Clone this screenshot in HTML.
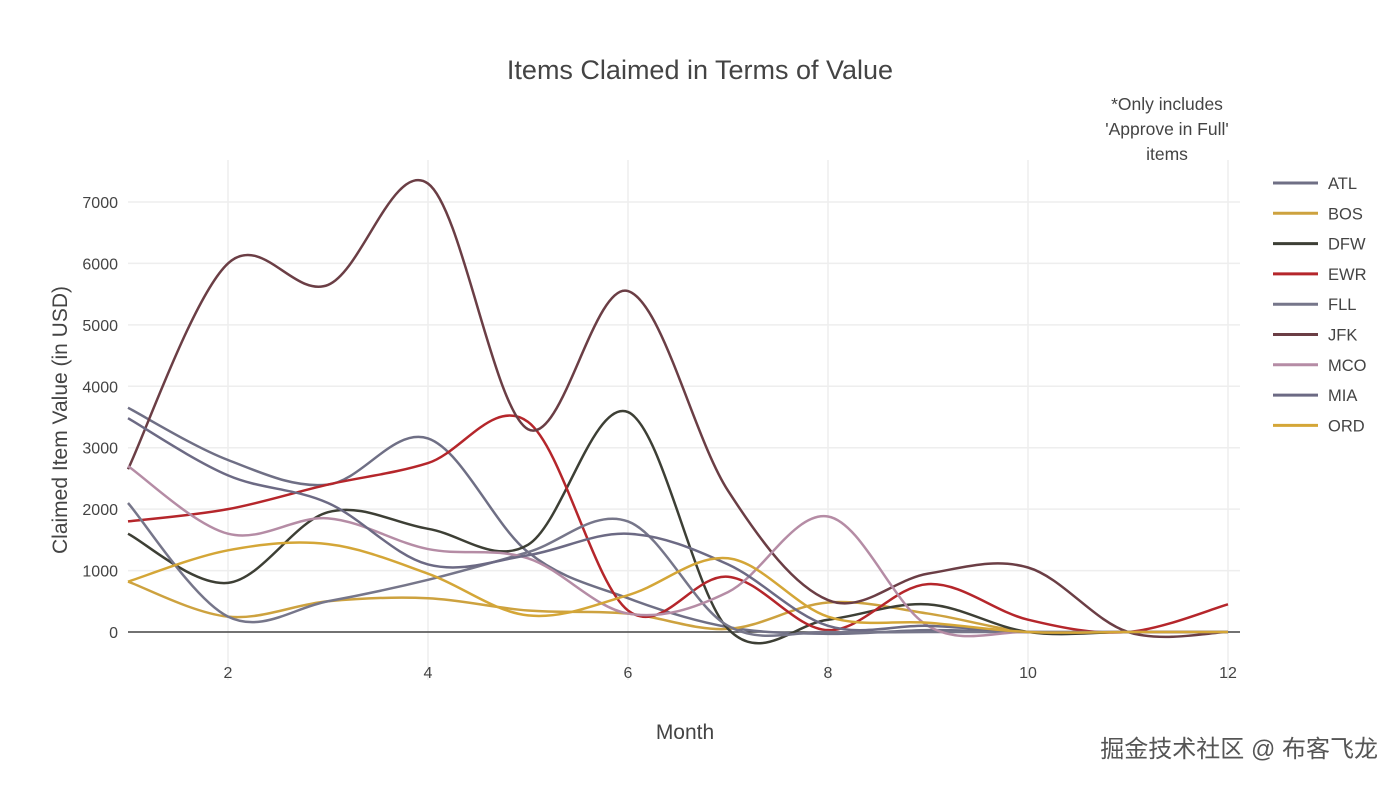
<!DOCTYPE html>
<html><head><meta charset="utf-8"><style>
body{margin:0;background:#fff;width:1400px;height:785px;overflow:hidden}
svg text{font-family:"Liberation Sans","Noto Sans CJK SC",sans-serif;fill:#444}
</style></head><body>
<svg id="s" width="1400" height="785" xmlns="http://www.w3.org/2000/svg">
<g id="grid" stroke="#eee" stroke-width="1.5"></g>
<line x1="128" y1="632" x2="1240" y2="632" stroke="#444" stroke-width="1.5"/>
<g id="lines" fill="none" stroke-width="2.5"></g>
<g id="ticks" font-size="16"></g>
<text x="700" y="79" font-size="27" text-anchor="middle">Items Claimed in Terms of Value</text>
<g font-size="17.5" text-anchor="middle"><text x="1167" y="110">*Only includes</text><text x="1167" y="135">'Approve in Full'</text><text x="1167" y="160">items</text></g>
<text x="685" y="739" font-size="21" text-anchor="middle">Month</text>
<text transform="translate(67,420) rotate(-90)" font-size="21" text-anchor="middle">Claimed Item Value (in USD)</text>
<g id="legend" font-size="16.5"></g>
<text x="1378" y="757" font-size="24" text-anchor="end" style="fill:#555">掘金技术社区 @ 布客飞龙</text>
</svg>
<script>
const px=m=>128+100*(m-1),py=v=>632-0.06143*v;
const NS="http://www.w3.org/2000/svg";
function el(p,t,a,txt){const e=document.createElementNS(NS,t);for(const k in a)e.setAttribute(k,a[k]);if(txt!==undefined)e.textContent=txt;document.getElementById(p).appendChild(e);}
for(let v=1000;v<=7000;v+=1000)el("grid","line",{x1:128,x2:1240,y1:py(v),y2:py(v)});
for(let m=2;m<=12;m+=2)el("grid","line",{x1:px(m),x2:px(m),y1:160,y2:680});
for(let v=0;v<=7000;v+=1000)el("ticks","text",{x:118,y:py(v)+6,"text-anchor":"end"},v);
for(let m=2;m<=12;m+=2)el("ticks","text",{x:px(m),y:678,"text-anchor":"middle"},m);
const S=[
["ATL","#6f6f85",[3650,2800,2400,3150,1300,550,80,-30,30,0,0,0]],
["BOS","#cda23f",[820,250,500,550,350,300,50,480,300,0,0,0]],
["DFW","#3d3f35",[1600,800,1950,1680,1420,3580,50,200,450,0,0,0]],
["EWR","#b5262b",[1800,2000,2400,2750,3420,350,900,30,780,200,0,450]],
["FLL","#76768a",[2100,250,500,850,1300,1800,100,0,0,0,0,0]],
["JFK","#6b3e45",[2650,6000,5650,7300,3300,5550,2300,520,950,1050,0,0]],
["MCO","#b58ca5",[2700,1600,1850,1350,1200,300,650,1880,100,0,0,0]],
["MIA","#6c6a84",[3480,2550,2100,1100,1250,1600,1100,100,100,0,0,0]],
["ORD","#d4a637",[820,1330,1430,950,270,600,1200,250,150,0,0,0]]];
function path(vals){const P=vals.map((v,i)=>[px(i+1),py(v)]);let d="M"+P[0];const t=0.34;
for(let i=0;i<P.length-1;i++){const p0=P[i-1]||P[i],p1=P[i],p2=P[i+1],p3=P[i+2]||P[i+1];
const c1=[p1[0]+(p2[0]-p0[0])*t/2,p1[1]+(p2[1]-p0[1])*t/2],c2=[p2[0]-(p3[0]-p1[0])*t/2,p2[1]-(p3[1]-p1[1])*t/2];
d+=" C"+c1+" "+c2+" "+p2;}return d;}
S.forEach((s,i)=>{el("lines","path",{d:path(s[2]),stroke:s[1]});
const y=183+i*30.3;el("legend","line",{x1:1273,x2:1318,y1:y,y2:y,stroke:s[1],"stroke-width":3});
el("legend","text",{x:1328,y:y+6},s[0]);});
</script>
</body></html>
